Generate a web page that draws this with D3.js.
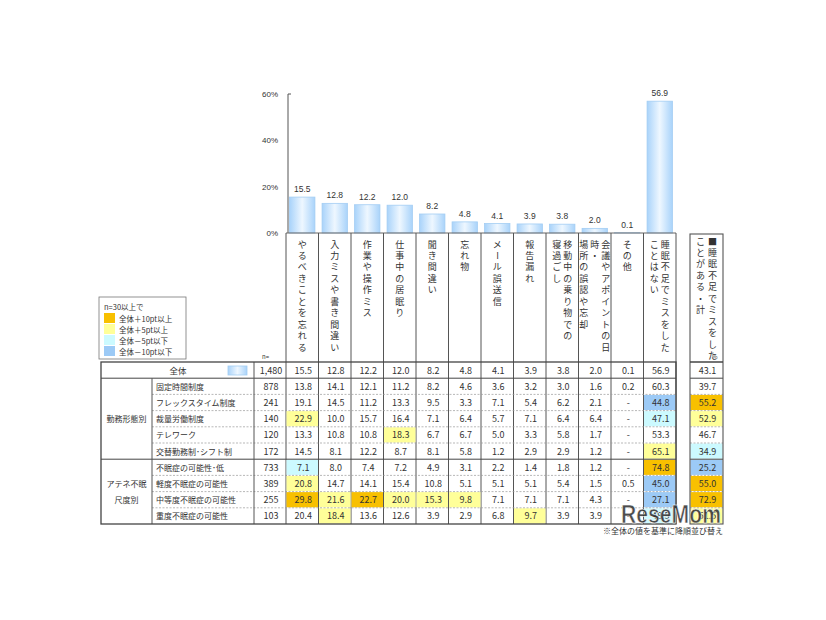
<!DOCTYPE html>
<html>
<head>
<meta charset="utf-8">
<script src="https://cdn.jsdelivr.net/npm/d3@7"></script>
<style>
  body { margin: 0; background: #fff; }
  text { font-family: "Noto Sans CJK JP", "Noto Sans", sans-serif; fill: #333; }
</style>
</head>
<body>
<svg id="chart" width="826" height="620"></svg>
<script>
// header labels, one entry per vertical line (right to left)
const itemLines = [
  ["やるべきことを忘れる"],
  ["入力ミスや書き間違い"],
  ["作業や操作ミス"],
  ["仕事中の居眠り"],
  ["聞き間違い"],
  ["忘れ物"],
  ["メール誤送信"],
  ["報告漏れ"],
  ["移動中の乗り物での", "寝過ごし"],
  ["会議やアポイントの日", "時・", "場所の誤認や忘却"],
  ["その他"],
  ["睡眠不足でミスをした", "ことはない"]
];
const sumLines = ["■睡眠不足でミスをした", "ことがある・計"];

const overallN = "1,480";
const overallValues = [15.5, 12.8, 12.2, 12.0, 8.2, 4.8, 4.1, 3.9, 3.8, 2.0, 0.1, 56.9];
const overallSum = 43.1;

const groupNames = [["勤務形態別"], ["アテネ不眠", "尺度別"]];
const groupSizes = [5, 4];

const rowLabels = ["固定時間制度", "フレックスタイム制度", "裁量労働制度", "テレワーク", "交替勤務制･シフト制",
  "不眠症の可能性･低", "軽度不眠症の可能性", "中等度不眠症の可能性", "重度不眠症の可能性"];
const rowN = [878, 241, 140, 120, 172, 733, 389, 255, 103];
const rowValues = [
  [13.8, 14.1, 12.1, 11.2, 8.2, 4.6, 3.6, 3.2, 3.0, 1.6, 0.2, 60.3],
  [19.1, 14.5, 11.2, 13.3, 9.5, 3.3, 7.1, 5.4, 6.2, 2.1, null, 44.8],
  [22.9, 10.0, 15.7, 16.4, 7.1, 6.4, 5.7, 7.1, 6.4, 6.4, null, 47.1],
  [13.3, 10.8, 10.8, 18.3, 6.7, 6.7, 5.0, 3.3, 5.8, 1.7, null, 53.3],
  [14.5, 8.1, 12.2, 8.7, 8.1, 5.8, 1.2, 2.9, 2.9, 1.2, null, 65.1],
  [7.1, 8.0, 7.4, 7.2, 4.9, 3.1, 2.2, 1.4, 1.8, 1.2, null, 74.8],
  [20.8, 14.7, 14.1, 15.4, 10.8, 5.1, 5.1, 5.1, 5.4, 1.5, 0.5, 45.0],
  [29.8, 21.6, 22.7, 20.0, 15.3, 9.8, 7.1, 7.1, 7.1, 4.3, null, 27.1],
  [20.4, 18.4, 13.6, 12.6, 3.9, 2.9, 6.8, 9.7, 3.9, 3.9, null, 48.5]
];
const rowSums = [39.7, 55.2, 52.9, 46.7, 34.9, 25.2, 55.0, 72.9, 51.5];

const yTicks = [0, 20, 40, 60];
const legendTitle = "n=30以上で";
const legendLabels = ["全体＋10pt以上", "全体＋5pt以上", "全体－5pt以下", "全体－10pt以下"];
const legendColors = ["#f8c000", "#ffff99", "#ccfaff", "#9ccaf6"];
const footNote = "※全体の値を基準に降順並び替え";

// ---- layout
const colX0 = 286, colX1 = 676;
const sumX0 = 690, sumX1 = 723;
const baseY = 233, tableTop = 362, rowH = 16.2;
const tblX0 = 101, grpX = 152, nX = 254;
const nRows = rowLabels.length;
const tableBottom = tableTop + rowH * (nRows + 1);

const svg = d3.select("#chart");
const cols = d3.range(itemLines.length);

const x = d3.scaleBand().domain(cols).range([colX0, colX1]).paddingInner(0.22).paddingOuter(0.11);
const colBand = d3.scaleBand().domain(cols).range([colX0, colX1]);
const y = d3.scaleLinear().domain([0, 60]).range([baseY, 94]);

// gradient for the bars
const defs = svg.append("defs");
const grad = defs.append("linearGradient").attr("id", "barGrad").attr("x1", 0).attr("x2", 1).attr("y1", 0).attr("y2", 0);
grad.append("stop").attr("offset", "0%").attr("stop-color", "#a9d3fa");
grad.append("stop").attr("offset", "50%").attr("stop-color", "#eef7ff");
grad.append("stop").attr("offset", "100%").attr("stop-color", "#a9d3fa");

// y axis
const yAxis = svg.append("g").attr("transform", `translate(288,0)`)
  .call(d3.axisLeft(y).tickValues(yTicks).tickFormat(d => d + "%").tickSize(0).tickPadding(10));
yAxis.select(".domain").remove();
yAxis.selectAll("text").style("font-size", "8px").style("font-family", "Liberation Sans, sans-serif").attr("fill", "#333");
svg.append("line").attr("x1", 288).attr("x2", 288).attr("y1", y(60)).attr("y2", baseY).attr("stroke", "#555");
svg.append("line").attr("x1", 288).attr("x2", 291).attr("y1", y(60)).attr("y2", y(60)).attr("stroke", "#555");

// bars
svg.selectAll("rect.bar").data(overallValues).join("rect")
  .attr("class", "bar")
  .attr("x", (d, i) => x(i))
  .attr("width", x.bandwidth())
  .attr("y", d => y(d))
  .attr("height", d => baseY - y(d))
  .attr("fill", "url(#barGrad)")
  .attr("stroke", "#a3cdf3")
  .attr("stroke-width", 0.8);

svg.selectAll("text.blab").data(overallValues).join("text")
  .attr("class", "blab")
  .attr("x", (d, i) => x(i) + x.bandwidth() / 2)
  .attr("y", d => y(d) - 5)
  .attr("text-anchor", "middle")
  .style("font-size", "8.5px")
  .style("font-family", "Liberation Sans, sans-serif")
  .text(d => d.toFixed(1));

// vertical header labels, one glyph at a time
function verticalText(lines, cx, top, step, gap) {
  const n = lines.length;
  lines.forEach((line, li) => {
    const lx = cx + (n - 1) * gap / 2 - li * gap;
    Array.from(line).forEach((ch, k) => {
      const t = svg.append("text")
        .attr("x", lx).attr("y", top + k * step)
        .attr("text-anchor", "middle")
        .attr("dominant-baseline", "central")
        .style("font-size", "9px")
        .text(ch);
      if (ch === "ー") t.attr("transform", `rotate(90,${lx},${top + k * step})`);
    });
  });
}
itemLines.forEach((lines, i) => {
  verticalText(lines, colBand(i) + colBand.bandwidth() / 2, 244, 11.45, 11);
});
verticalText(sumLines, (sumX0 + sumX1) / 2, 241, 11.45, 12);

// baseline and header column lines
svg.append("line").attr("x1", colX0).attr("x2", colX1).attr("y1", baseY).attr("y2", baseY).attr("stroke", "#666");
const bounds = cols.map(i => colBand(i)).concat([colX1]);
svg.selectAll("line.vcol").data(bounds).join("line")
  .attr("class", "vcol")
  .attr("x1", d => d).attr("x2", d => d)
  .attr("y1", baseY).attr("y2", tableBottom)
  .attr("stroke", "#555").attr("stroke-width", 1);

svg.append("text").attr("x", 262).attr("y", 359).style("font-size", "6px").attr("fill", "#555").text("n=");
svg.append("text").attr("x", 712).attr("y", 359).style("font-size", "6px").attr("fill", "#555").text("%");

// cell colour from difference with the overall row
function cellColor(v, base, n) {
  if (v == null || n < 30) return null;
  const d = +(v - base).toFixed(1);
  if (d >= 10) return legendColors[0];
  if (d >= 5) return legendColors[1];
  if (d <= -10) return legendColors[3];
  if (d <= -5) return legendColors[2];
  return null;
}

const rowY = r => tableTop + rowH * r;

// highlighted cells
rowValues.forEach((vals, r) => {
  vals.forEach((v, c) => {
    const col = cellColor(v, overallValues[c], rowN[r]);
    if (col) svg.append("rect").attr("x", colBand(c) + 0.5).attr("y", rowY(r + 1) + 0.5)
      .attr("width", colBand.bandwidth() - 1).attr("height", rowH - 1).attr("fill", col);
  });
  const sc = cellColor(rowSums[r], overallSum, rowN[r]);
  if (sc) svg.append("rect").attr("x", sumX0 + 0.5).attr("y", rowY(r + 1) + 0.5)
    .attr("width", sumX1 - sumX0 - 1).attr("height", rowH - 1).attr("fill", sc);
});

// row separators
let gStart = 1;
groupSizes.forEach((gs, g) => {
  for (let k = 1; k < gs; k++) {
    const yy = rowY(gStart + k);
    svg.append("line").attr("x1", grpX).attr("x2", colX1).attr("y1", yy).attr("y2", yy)
      .attr("stroke", "#999").attr("stroke-width", 0.7).attr("stroke-dasharray", "2,1.5");
    svg.append("line").attr("x1", sumX0).attr("x2", sumX1).attr("y1", yy).attr("y2", yy)
      .attr("stroke", "#999").attr("stroke-width", 0.7).attr("stroke-dasharray", "2,1.5");
  }
  const yy = rowY(gStart);
  svg.append("line").attr("x1", tblX0).attr("x2", colX1).attr("y1", yy).attr("y2", yy).attr("stroke", "#444").attr("stroke-width", 1);
  svg.append("line").attr("x1", sumX0).attr("x2", sumX1).attr("y1", yy).attr("y2", yy).attr("stroke", "#444").attr("stroke-width", 1);
  // group label
  const gy = (rowY(gStart) + rowY(gStart + gs)) / 2;
  groupNames[g].forEach((t, li) => {
    svg.append("text").attr("x", (tblX0 + grpX) / 2)
      .attr("y", gy + (li - (groupNames[g].length - 1) / 2) * 16)
      .attr("text-anchor", "middle").attr("dominant-baseline", "central")
      .style("font-size", "8px").text(t);
  });
  gStart += gs;
});

// table vertical lines
[[grpX, rowY(1)], [nX, tableTop]].forEach(([xx, y0]) => {
  svg.append("line").attr("x1", xx).attr("x2", xx).attr("y1", y0).attr("y2", tableBottom).attr("stroke", "#555");
});

// outer borders
svg.append("rect").attr("x", tblX0).attr("y", tableTop).attr("width", colX1 - tblX0).attr("height", tableBottom - tableTop)
  .attr("fill", "none").attr("stroke", "#444").attr("stroke-width", 1.3);
svg.append("rect").attr("x", sumX0).attr("y", baseY + 1).attr("width", sumX1 - sumX0).attr("height", tableBottom - baseY - 1)
  .attr("fill", "none").attr("stroke", "#555").attr("stroke-width", 1.1);
svg.append("line").attr("x1", sumX0).attr("x2", sumX1).attr("y1", tableTop).attr("y2", tableTop).attr("stroke", "#444").attr("stroke-width", 1.3);

// overall row
svg.append("text").attr("x", 178).attr("y", rowY(0) + rowH / 2).attr("text-anchor", "middle")
  .attr("dominant-baseline", "central").style("font-size", "8.5px").text("全体");
svg.append("rect").attr("x", 228).attr("y", rowY(0) + 4).attr("width", 19).attr("height", 9)
  .attr("fill", "url(#barGrad)").attr("stroke", "#a3cdf3").attr("stroke-width", 0.8);

// numbers
const fmt = v => v == null ? "-" : v.toFixed(1);
function numText(xx, yy, t) {
  svg.append("text").attr("x", xx).attr("y", yy).attr("text-anchor", "middle")
    .attr("dominant-baseline", "central").style("font-size", "9px").text(t);
}
const allRows = [overallValues].concat(rowValues);
const allSums = [overallSum].concat(rowSums);
const allN = [overallN].concat(rowN.map(d3.format(",")));
allRows.forEach((vals, r) => {
  const cy = rowY(r) + rowH / 2;
  numText((nX + colX0) / 2 + 1, cy, allN[r]);
  vals.forEach((v, c) => numText(colBand(c) + colBand.bandwidth() / 2 + 1, cy, fmt(v)));
  numText((sumX0 + sumX1) / 2 + 1, cy, fmt(allSums[r]));
});

// row labels
rowLabels.forEach((t, r) => {
  svg.append("text").attr("x", 156).attr("y", rowY(r + 1) + rowH / 2)
    .attr("dominant-baseline", "central").style("font-size", "8px").text(t);
});

// legend
svg.append("rect").attr("x", 99).attr("y", 297).attr("width", 87).attr("height", 62)
  .attr("fill", "#fff").attr("stroke", "#777").attr("stroke-width", 0.8);
svg.append("text").attr("x", 104).attr("y", 306).attr("dominant-baseline", "central")
  .style("font-size", "7.5px").text(legendTitle);
legendLabels.forEach((t, i) => {
  const ly = 313 + i * 11;
  svg.append("rect").attr("x", 104).attr("y", ly).attr("width", 11).attr("height", 10).attr("fill", legendColors[i]);
  svg.append("text").attr("x", 119).attr("y", ly + 5).attr("dominant-baseline", "central")
    .style("font-size", "7.5px").text(t);
});

// foot note
svg.append("text").attr("x", 723).attr("y", 534).attr("text-anchor", "end")
  .style("font-size", "8px").text(footNote);

// watermark
svg.append("text").attr("x", 621).attr("y", 523)
  .attr("textLength", 100).attr("lengthAdjust", "spacingAndGlyphs")
  .style("font-family", "Liberation Sans, sans-serif")
  .style("font-weight", "bold").style("font-size", "25px")
  .attr("fill", "#6a6a6a").attr("fill-opacity", 0.9)
  .attr("stroke", "#fff").attr("stroke-width", 0.6)
  .text("ReseMom");
</script>
</body>
</html>
